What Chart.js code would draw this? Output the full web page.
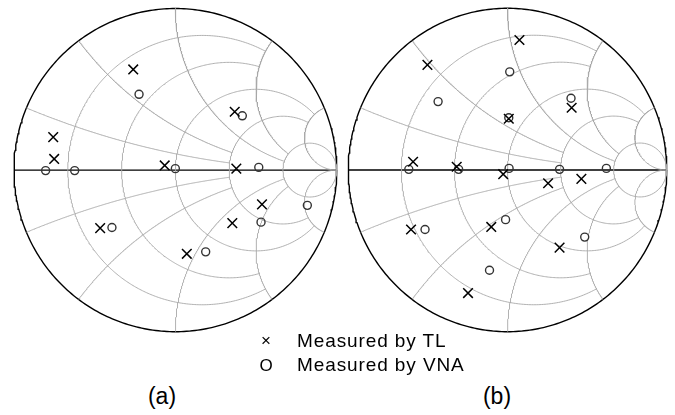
<!DOCTYPE html>
<html>
<head>
<meta charset="utf-8">
<script src="https://cdn.jsdelivr.net/npm/chart.js@4.4.1/dist/chart.umd.min.js"></script>
<style>
    body { margin: 0; background: #fff; width: 675px; height: 415px; overflow: hidden; position: relative; font-family: "Liberation Sans", Arial, sans-serif; color: #000; }
    canvas { position: absolute; }
    #chartA { left: 0; top: 0; }
    #chartB { left: 340px; top: 0; }
    .leyenda { position: absolute; font-size: 19px; line-height: 20px; letter-spacing: 0.9px; white-space: nowrap; }
    .simbolo { position: absolute; font-size: 17px; line-height: 20px; width: 20px; text-align: center; }
    .etiqueta { position: absolute; font-size: 23px; line-height: 26px; width: 60px; text-align: center; }
</style>
</head>
<body>
<canvas id="chartA" width="345" height="340"></canvas>
<canvas id="chartB" width="335" height="340"></canvas>

<div class="simbolo" style="left:256px; top:331px;">×</div>
<div class="leyenda" style="left:297px; top:331px;">Measured by TL</div>
<div class="simbolo" style="left:256px; top:356px;">O</div>
<div class="leyenda" style="left:297px; top:355px;">Measured by VNA</div>
<div class="etiqueta" style="left:132px; top:383px;">(a)</div>
<div class="etiqueta" style="left:467px; top:383px;">(b)</div>

<script>
// Panel (a)
const tlReA = [-0.261, -0.757, -0.751, -0.066, 0.368, 0.378, 0.537, 0.353, -0.466, 0.071];
const tlImA = [0.623, 0.204, 0.069, 0.029, 0.361, 0.009, -0.212, -0.328, -0.359, -0.518];
const vnaReA = [-0.225, -0.804, -0.624, 0.000, 0.415, 0.517, 0.818, 0.531, -0.393, 0.188];
const vnaImA = [0.469, -0.003, -0.003, 0.009, 0.336, 0.017, -0.218, -0.322, -0.355, -0.506];

// Panel (b)
const tlReB = [0.075, -0.503, 0.008, 0.403, -0.593, -0.319, -0.027, 0.255, 0.464, -0.606, -0.102, 0.327, -0.248];
const tlImB = [0.804, 0.650, 0.317, 0.385, 0.051, 0.020, -0.026, -0.082, -0.055, -0.368, -0.352, -0.480, -0.761];
const vnaReB = [0.014, -0.436, 0.008, 0.399, -0.620, -0.307, 0.010, 0.327, 0.621, -0.518, -0.012, 0.485, -0.113];
const vnaImB = [0.607, 0.423, 0.323, 0.444, 0.004, 0.004, 0.010, 0.004, 0.010, -0.368, -0.307, -0.415, -0.620];

// Valores de la grilla de Smith (r y x) y hasta dónde se dibuja cada línea
const gridValues = [0.2, 0.5, 1, 2, 5];
const gridLimits = [2, 2, 5, 5, Infinity];

const N = 360;

function gamma(r, x) {
    const d = (r + 1) * (r + 1) + x * x;
    return { x: (r * r + x * x - 1) / d, y: 2 * x / d };
}

function toPoints(re, im) {
    return re.map((v, i) => ({ x: v, y: im[i] }));
}

function lineSet(data, color, width) {
    return {
        data: data,
        showLine: true,
        borderColor: color,
        borderWidth: width,
        pointRadius: 0,
        pointHoverRadius: 0,
        fill: false,
        clip: false
    };
}

function gridDatasets() {
    const sets = [];
    const gris = '#a8a8a8';

    gridValues.forEach((v, i) => {
        const aL = Math.atan(gridLimits[i]);

        // circulo de resistencia constante
        const rc = [];
        for (let k = 0; k <= N; k++) {
            rc.push(gamma(v, Math.tan(-aL + 2 * aL * k / N)));
        }
        sets.push(lineSet(rc, gris, 0.9));

        // arcos de reactancia constante (+ y -)
        [1, -1].forEach(s => {
            const arc = [];
            for (let k = 0; k <= N; k++) {
                arc.push(gamma(Math.tan(aL * k / N), s * v));
            }
            sets.push(lineSet(arc, gris, 0.9));
        });
    });

    // borde exterior (r = 0)
    const borde = [];
    for (let k = 0; k <= N; k++) {
        borde.push(gamma(0, Math.tan(-Math.PI / 2 + Math.PI * k / N)));
    }
    sets.push(lineSet(borde, '#000', 1.4));

    // eje real
    sets.push(lineSet([{ x: -1, y: 0 }, { x: 1, y: 0 }], '#000', 1.3));

    return sets;
}

function crearSmith(canvasId, tlRe, tlIm, vnaRe, vnaIm, padding) {
    const ctx = document.getElementById(canvasId).getContext('2d');

    const datasets = [
        {
            label: 'Measured by TL',
            data: toPoints(tlRe, tlIm),
            pointStyle: 'crossRot',
            pointRadius: 6.8,
            borderColor: '#000',
            borderWidth: 1.5,
            clip: false
        },
        {
            label: 'Measured by VNA',
            data: toPoints(vnaRe, vnaIm),
            pointStyle: 'circle',
            pointRadius: 4,
            borderColor: '#333',
            backgroundColor: 'rgba(0,0,0,0)',
            borderWidth: 1.4,
            clip: false
        }
    ].concat(gridDatasets());

    return new Chart(ctx, {
        type: 'scatter',
        data: { datasets: datasets },
        options: {
            responsive: false,
            animation: false,
            events: [],
            layout: { padding: padding },
            plugins: {
                legend: { display: false },
                tooltip: { enabled: false }
            },
            scales: {
                x: { type: 'linear', min: -1, max: 1, display: false },
                y: { type: 'linear', min: -1, max: 1, display: false }
            }
        }
    });
}

crearSmith('chartA', tlReA, tlImA, vnaReA, vnaImA, { left: 14, right: 5, top: 8.5, bottom: 5.5 });
crearSmith('chartB', tlReB, tlImB, vnaReB, vnaImB, { left: 4.5, right: 4.5, top: 7, bottom: 7 });
</script>
</body>
</html>
